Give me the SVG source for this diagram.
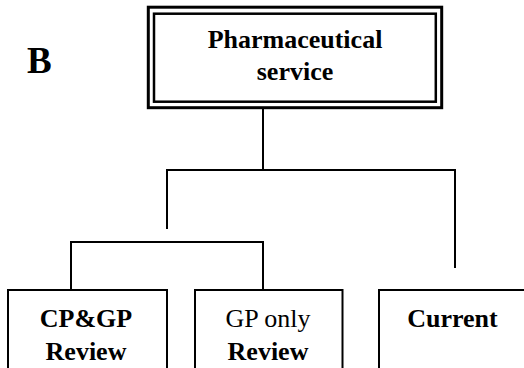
<svg xmlns="http://www.w3.org/2000/svg" width="524" height="368" viewBox="0 0 524 368">
<style>
text{font-family:'Liberation Serif','DejaVu Serif',serif;fill:#000}
.t{font-size:26px;text-anchor:middle}
.b{font-weight:bold}
.box{fill:#fff;stroke:#000;stroke-width:2}
.ln{fill:none;stroke:#000;stroke-width:2;stroke-linecap:square}
</style>
<rect width="524" height="368" fill="#fff"/>
<text x="27" y="73" font-size="37" font-weight="bold">B</text>
<g id="connectors">
<path class="ln" d="M263,108 V170 M167,170 H455 M167,170 V228 M455,170 V267"/>
<path class="ln" d="M71,242 H263 M71,242 V290 M263,242 V290"/>
</g>
<g id="pharmaceutical-service">
<rect x="148.3" y="7.2" width="293.4" height="100.5" fill="#fff" stroke="#000" stroke-width="3"/>
<rect x="154" y="13.7" width="281.8" height="88" fill="none" stroke="#000" stroke-width="2.5"/>
<text class="t b" x="295" y="47.5">Pharmaceutical</text>
<text class="t b" x="295" y="80">service</text>
</g>
<g id="cpgp-review">
<rect class="box" x="8" y="290" width="159" height="90"/>
<text class="t b" x="86" y="327">CP&amp;GP</text>
<text class="t b" x="86" y="360">Review</text>
</g>
<g id="gp-only-review">
<rect class="box" x="195" y="290" width="147.5" height="90"/>
<text class="t" x="268" y="327">GP only</text>
<text class="t b" x="268" y="360">Review</text>
</g>
<g id="current">
<rect class="box" x="379" y="290" width="148" height="90"/>
<text class="t b" x="452.5" y="327">Current</text>
</g>
</svg>
